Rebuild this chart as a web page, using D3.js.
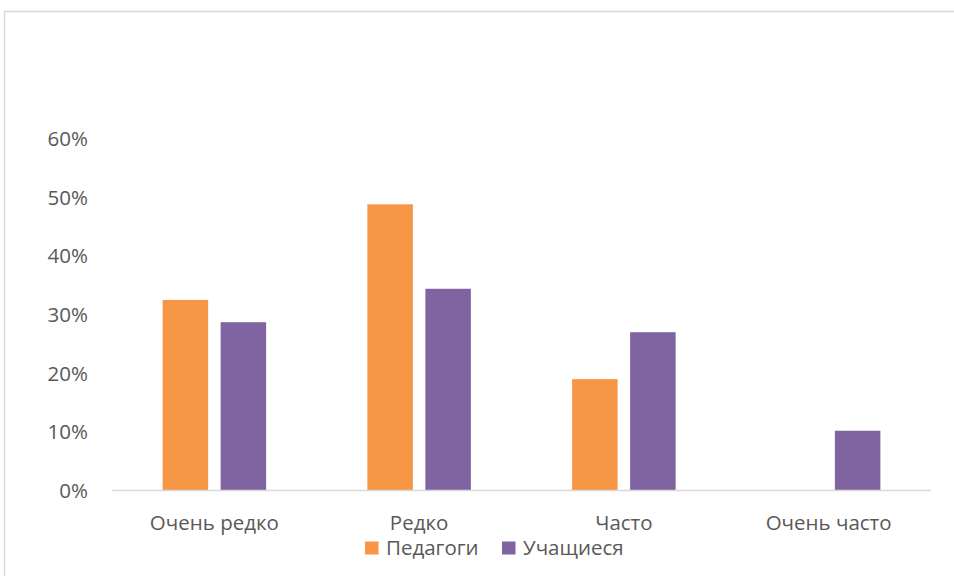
<!DOCTYPE html>
<html>
<head>
<meta charset="utf-8">
<script src="https://cdn.jsdelivr.net/npm/d3@7"></script>
<style>
  html, body { margin: 0; padding: 0; background: #fff; }
  svg { display: block; }
  text { font-family: "Open Sans", "Noto Sans", sans-serif; fill: #595959; }
</style>
</head>
<body>
<svg id="chart" width="954" height="576"></svg>
<script>
// Answer categories
const categories = ["Очень редко", "Редко", "Часто", "Очень часто"];
// Series names
const seriesNames = ["Педагоги", "Учащиеся"];
// Share of respondents per category
const teachers = [0.324, 0.487, 0.189, 0];
const students = [0.286, 0.343, 0.269, 0.101];
// Y axis ticks
const yTicks = [0, 0.1, 0.2, 0.3, 0.4, 0.5, 0.6];
const colors = ["#F79646", "#8064A2"];

const FONT = '"Open Sans", "Noto Sans", sans-serif';
const FS = 20.5;

const svg = d3.select("#chart");

// Chart frame (partially out of view)
svg.append("rect")
  .attr("x", 4.5).attr("y", 11.5)
  .attr("width", 1100).attr("height", 1100)
  .attr("fill", "none").attr("stroke", "#d9d9d9").attr("stroke-width", 1.5);

const plot = { left: 112, right: 931, top: 138, bottom: 490 };

const x = d3.scaleBand().domain(categories).range([plot.left, plot.right]).paddingInner(0).paddingOuter(0);
const y = d3.scaleLinear().domain([0, 0.6]).range([plot.bottom, plot.top]);

const barW = 45.5, gap = 12.5;
const groupW = barW * 2 + gap;

const rows = categories.map((c, i) => ({ cat: c, vals: [teachers[i], students[i]] }));

const g = svg.append("g");
rows.forEach(r => {
  const x0 = x(r.cat) + x.bandwidth() / 2 - groupW / 2;
  r.vals.forEach((v, s) => {
    if (v <= 0) return;
    g.append("rect")
      .attr("x", x0 + s * (barW + gap))
      .attr("y", y(v))
      .attr("width", barW)
      .attr("height", y(0) - y(v))
      .attr("fill", colors[s]);
  });
});

// Baseline
svg.append("line")
  .attr("x1", plot.left).attr("x2", plot.right)
  .attr("y1", y(0) + 0.5).attr("y2", y(0) + 0.5)
  .attr("stroke", "#d9d9d9").attr("stroke-width", 1.5);

// Y axis labels
const yAxis = d3.axisLeft(y).tickValues(yTicks).tickFormat(d3.format(".0%")).tickSize(0).tickPadding(0);
const ya = svg.append("g").attr("transform", `translate(${88},0)`).call(yAxis);
ya.select(".domain").remove();
ya.selectAll("text").attr("font-size", FS).attr("fill", "#595959").attr("dy", "0.36em")
  .style("font-family", FONT);

// X axis labels
const xAxis = d3.axisBottom(x).tickSize(0).tickPadding(0);
const xa = svg.append("g").attr("transform", `translate(0,${529.5})`).call(xAxis);
xa.select(".domain").remove();
xa.selectAll("text").attr("font-size", FS).attr("fill", "#595959").attr("dy", 0).attr("y", 0)
  .style("font-family", FONT);

// Legend
const legendItems = [{ x: 365, name: seriesNames[0], c: colors[0] }, { x: 502, name: seriesNames[1], c: colors[1] }];
const lg = svg.append("g");
legendItems.forEach(it => {
  lg.append("rect").attr("x", it.x).attr("y", 541.5).attr("width", 13.5).attr("height", 13).attr("fill", it.c);
  lg.append("text").attr("x", it.x + 21).attr("y", 555).attr("font-size", FS).text(it.name);
});
</script>
</body>
</html>
